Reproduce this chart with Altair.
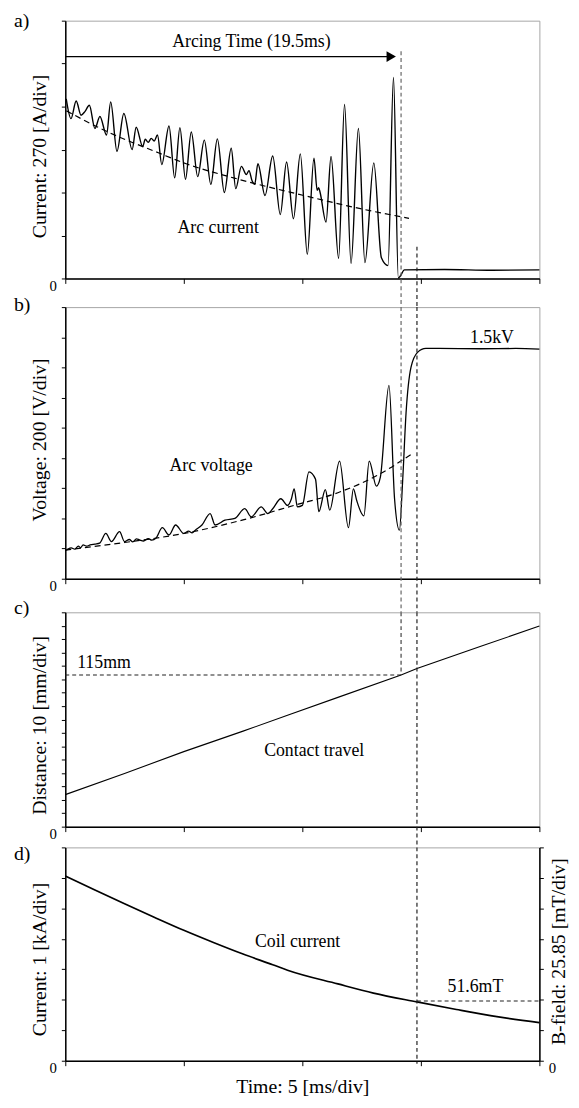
import altair as alt
import pandas as pd

FONT = "Liberation Serif"
X_TICKS = [0, 1, 2, 3, 4]          # time in divisions (5 ms/div)

# ---- a) arc current (divisions of 270 A) ----
CUR_X = [0.008, 0.048, 0.092, 0.133, 0.167, 0.203, 0.25, 0.292, 0.348, 0.383, 0.436, 0.494, 0.564,
         0.598, 0.653, 0.675, 0.70, 0.725, 0.75, 0.778, 0.814, 0.875, 0.923, 0.967, 1.014, 1.063,
         1.117, 1.173, 1.228, 1.283, 1.342, 1.40, 1.438, 1.486, 1.528, 1.55, 1.575, 1.598, 1.625,
         1.685, 1.75, 1.814, 1.867, 1.925, 1.983, 2.042, 2.098, 2.125, 2.138, 2.15, 2.20, 2.242,
         2.306, 2.356, 2.411, 2.473, 2.528, 2.603, 2.667, 2.723, 2.769, 2.81, 2.825, 2.861, 3.2,
         3.6, 4.0]
CUR_Y = [4.18, 3.72, 4.13, 3.80, 3.89, 4.03, 3.49, 3.77, 3.34, 4.11, 2.96, 3.84, 3.00,
         3.52, 3.07, 3.24, 3.17, 3.26, 3.20, 3.34, 2.65, 3.55, 2.34, 3.51, 2.31, 3.41,
         2.37, 3.22, 2.19, 3.25, 2.00, 3.03, 2.09, 2.61, 2.42, 2.51, 2.28, 2.19, 2.67,
         1.93, 2.85, 1.49, 2.71, 1.39, 2.90, 0.56, 2.80, 2.05, 2.11, 2.00, 1.31, 2.84,
         0.47, 4.05, 0.35, 3.49, 0.37, 2.69, 0.48, 0.30, 4.68, 0.01, 0.05, 0.20, 0.21,
         0.19, 0.20]
CUR_TREND_X = [0.01, 0.32, 0.79, 1.02, 1.42, 2.03, 2.38, 2.9]
CUR_TREND_Y = [3.90, 3.46, 2.92, 2.67, 2.34, 1.92, 1.69, 1.40]

# ---- b) arc voltage (divisions of 200 V) ----
VOLT_X = [0.0, 0.014, 0.05, 0.08, 0.11, 0.13, 0.15, 0.18, 0.21, 0.25, 0.29, 0.342, 0.389, 0.458,
          0.5, 0.54, 0.57, 0.6, 0.625, 0.66, 0.7, 0.73, 0.764, 0.819, 0.875, 0.931, 1.0, 1.04,
          1.07, 1.097, 1.153, 1.222, 1.264, 1.347, 1.431, 1.514, 1.569, 1.653, 1.708, 1.75,
          1.819, 1.875, 1.908, 1.931, 1.958, 2.0, 2.056, 2.111, 2.139, 2.194, 2.231, 2.314,
          2.389, 2.431, 2.458, 2.519, 2.564, 2.625, 2.658, 2.731, 2.778, 2.819, 2.847, 2.875,
          2.917, 2.972, 3.042, 3.153, 3.5, 3.8, 4.0]
VOLT_Y = [0.93, 0.96, 1.02, 0.98, 1.08, 1.03, 1.12, 1.08, 1.12, 1.15, 1.18, 1.50, 1.23, 1.56,
          1.23, 1.30, 1.22, 1.32, 1.29, 1.25, 1.33, 1.28, 1.34, 1.69, 1.45, 1.78, 1.50, 1.58,
          1.52, 1.61, 1.78, 2.16, 1.78, 1.94, 2.00, 2.32, 2.05, 2.38, 2.16, 2.32,
          2.65, 2.43, 2.65, 2.98, 2.38, 2.43, 3.54, 3.30, 2.22, 2.95, 2.27, 3.90,
          1.69, 2.98, 2.60, 2.08, 3.90, 3.07, 3.36, 6.41, 2.65, 1.61, 3.30, 5.49,
          7.01, 7.50, 7.63, 7.63, 7.62, 7.63, 7.61]
VOLT_TREND_X = [0.0, 0.5, 1.0, 1.5, 1.93, 2.32, 2.625, 2.917]
VOLT_TREND_Y = [0.95, 1.20, 1.50, 1.95, 2.43, 2.88, 3.41, 4.12]

# ---- c) contact travel (divisions of 10 mm) ----
TRAVEL_X = [0.0, 0.5, 1.0, 1.5, 1.875, 2.3, 2.833, 2.967, 3.5, 4.0]
TRAVEL_Y = [2.39, 3.97, 5.60, 7.13, 8.32, 9.65, 11.32, 11.80, 13.44, 14.98]

# ---- d) coil current (divisions of 1 kA) ----
COIL_X = [0.0, 0.25, 0.5, 0.75, 1.0, 1.25, 1.5, 1.75, 1.875, 2.3, 2.6, 2.967, 3.3, 3.6, 4.0]
COIL_Y = [6.06, 5.60, 5.15, 4.71, 4.28, 3.88, 3.50, 3.15, 2.97, 2.52, 2.22, 1.93, 1.68, 1.47, 1.25]

MARK1_X = 2.833          # current zero / end of arcing
MARK2_X = 2.967          # voltage recovered
TRAVEL_AT_MARK = 11.32   # 115 mm
BFIELD_AT_MARK = 1.96    # 51.6 mT
ARROW_Y = 5.165
ARROW_END = 2.75

# panel: (divisions, axis title, title y offset, x axis title)
PANELS = {
    "a": (6, "Current: 270 [A/div]", 137, None),
    "b": (9, "Voltage: 200 [V/div]", 134, None),
    "c": (16, "Distance: 10 [mm/div]", 114, None),
    "d": (7, "Current: 1 [kA/div]", 113, "Time: 5 [ms/div]"),
}
W = 480


def xenc(p, field="x"):
    title = PANELS[p][3]
    return alt.X(f"{field}:Q", scale=alt.Scale(domain=[0, 4], nice=False, zero=False),
                 axis=alt.Axis(values=X_TICKS, labels=False, title=title, grid=False,
                               domainColor="black", domainWidth=1.5, tickColor="black",
                               tickSize=5, titleFont=FONT, titleFontSize=20,
                               titleFontWeight="normal", titleColor="black", titlePadding=11))


def yaxis(n, title, ty, orient="left", tx=-16):
    return alt.Axis(values=list(range(n + 1)), labelExpr="datum.value == 0 ? '0' : ''",
                    orient=orient, title=title, grid=False, domainColor="black", domainWidth=1.5,
                    tickColor="black", tickSize=4, labelFont=FONT, labelFontSize=15,
                    labelColor="black", labelBaseline="top", labelPadding=5, labelOverlap=False,
                    labelFlush=False, titleFont=FONT, titleFontSize=20, titleFontWeight="normal",
                    titleColor="black", titleAngle=270, titleX=tx, titleY=ty,
                    titleBaseline="bottom", titleAlign="center")


def yenc(p, field="y"):
    n, title, ty, _ = PANELS[p]
    return alt.Y(f"{field}:Q", scale=alt.Scale(domain=[0, n], nice=False, zero=False),
                 axis=yaxis(n, title, ty))


def trace(p, xs, ys, width=1.3, dash=None, interp="monotone"):
    kw = dict(interpolate=interp, color="black", strokeWidth=width)
    if dash:
        kw["strokeDash"] = dash
    return alt.Chart(pd.DataFrame({"x": xs, "y": ys})).mark_line(**kw).encode(
        x=xenc(p), y=yenc(p))


def texts(p, xs, ys, labels, size=18, align="center"):
    return alt.Chart(pd.DataFrame({"x": xs, "y": ys, "t": labels})).mark_text(
        font=FONT, fontSize=size, align=align, baseline="alphabetic", color="black").encode(
        x=xenc(p), y=yenc(p), text="t:N")


def vlines(p, xs, ys, y2s, colors):
    return alt.Chart(pd.DataFrame({"x": xs, "y": ys, "y2": y2s, "c": colors})).mark_rule(
        strokeDash=[4, 3], strokeWidth=1.2).encode(
        x=xenc(p), y=yenc(p), y2="y2:Q", color=alt.Color("c:N", scale=None))


def hline(p, x0, x1, y):
    return alt.Chart(pd.DataFrame({"x": [x0], "x2": [x1], "y": [y]})).mark_rule(
        color="#222222", strokeWidth=1.2, strokeDash=[4, 3]).encode(
        x=xenc(p), x2="x2:Q", y=yenc(p))


def spacer(h):
    return alt.Chart(pd.DataFrame({"x": [0]})).mark_point(opacity=0).encode(
        x=alt.value(0), y=alt.value(0)).properties(
        width=W, height=h, view=alt.ViewBackground(stroke=None))


# ---------- panel a ----------
a_arrow = alt.Chart(pd.DataFrame({"x": [0.0], "x2": [ARROW_END], "y": [ARROW_Y]})).mark_rule(
    color="black", strokeWidth=1.3).encode(x=xenc("a"), x2="x2:Q", y=yenc("a"))
a_head = alt.Chart(pd.DataFrame({"x": [ARROW_END], "y": [ARROW_Y]})).mark_point(
    shape="triangle-right", filled=True, size=120, color="black", opacity=1).encode(
    x=xenc("a"), y=yenc("a"))
panel_a = alt.layer(
    trace("a", CUR_X, CUR_Y, width=1.4),
    trace("a", CUR_TREND_X, CUR_TREND_Y, dash=[6, 4], width=1.2),
    vlines("a", [MARK1_X, MARK2_X], [5.29, 0.74], [-0.667, -0.667], ["#666666", "#222222"]),
    a_arrow, a_head,
    texts("a", [1.57, 1.29], [5.38, 1.06], ["Arcing Time (19.5ms)", "Arc current"]),
    texts("a", [-0.433], [5.86], ["a)"], size=20, align="left"),
).properties(width=W, height=261)

# ---------- panel b ----------
panel_b = alt.layer(
    trace("b", VOLT_X, VOLT_Y, width=1.3),
    trace("b", VOLT_TREND_X, VOLT_TREND_Y, dash=[6, 4], width=1.2),
    vlines("b", [MARK1_X, MARK2_X], [9.0, 9.0], [-1.11, -1.11], ["#666666", "#222222"]),
    texts("b", [3.60, 1.23], [7.81, 3.58], ["1.5kV", "Arc voltage"]),
    texts("b", [-0.433], [8.87], ["b)"], size=20, align="left"),
).properties(width=W, height=275)

# ---------- panel c ----------
panel_c = alt.layer(
    trace("c", TRAVEL_X, TRAVEL_Y, width=1.1, interp="linear"),
    vlines("c", [MARK1_X, MARK2_X], [16.0, 16.0], [TRAVEL_AT_MARK, -1.55], ["#444444", "#222222"]),
    hline("c", 0.0, MARK1_X, TRAVEL_AT_MARK),
    texts("c", [2.10], [5.29], ["Contact travel"]),
    texts("c", [0.1], [11.86], ["115mm"], align="left"),
    texts("c", [-0.433], [15.87], ["c)"], size=20, align="left"),
).properties(width=W, height=217)

# ---------- panel d ----------
ND = PANELS["d"][0]
left_d = alt.layer(
    trace("d", COIL_X, COIL_Y, width=1.7),
    vlines("d", [MARK2_X], [7.0], [-0.1], ["#222222"]),
    texts("d", [1.96], [3.74], ["Coil current"]),
    texts("d", [-0.433], [6.57], ["d)"], size=20, align="left"),
)
yright = alt.Y("y:Q", scale=alt.Scale(domain=[0, ND], nice=False, zero=False),
               axis=yaxis(ND, "B-field: 25.85 [mT/div]", 105, orient="right", tx=29))
d_h = alt.Chart(pd.DataFrame({"x": [MARK2_X], "x2": [4.0], "y": [BFIELD_AT_MARK]})).mark_rule(
    color="#222222", strokeWidth=1.2, strokeDash=[4, 3]).encode(x=xenc("d"), x2="x2:Q", y=yright)
d_txt2 = alt.Chart(pd.DataFrame({"x": [3.46], "y": [2.26], "t": ["51.6mT"]})).mark_text(
    font=FONT, fontSize=18, align="center", baseline="alphabetic", color="black").encode(
    x=xenc("d"), y=yright, text="t:N")
right_d = alt.layer(d_h, d_txt2)
panel_d = alt.layer(left_d, right_d).resolve_scale(y="independent").properties(width=W, height=216)

chart = alt.vconcat(panel_a, spacer(29), panel_b, spacer(34), panel_c, spacer(21), panel_d,
                    spacing=0, bounds="flush").configure_view(
    stroke="#a6a6a6", strokeWidth=1).properties(
    padding={"left": 5, "top": -5, "right": 2, "bottom": 2}, background="white")

chart.save("out.html", embed_options={"renderer": "svg", "actions": False})
